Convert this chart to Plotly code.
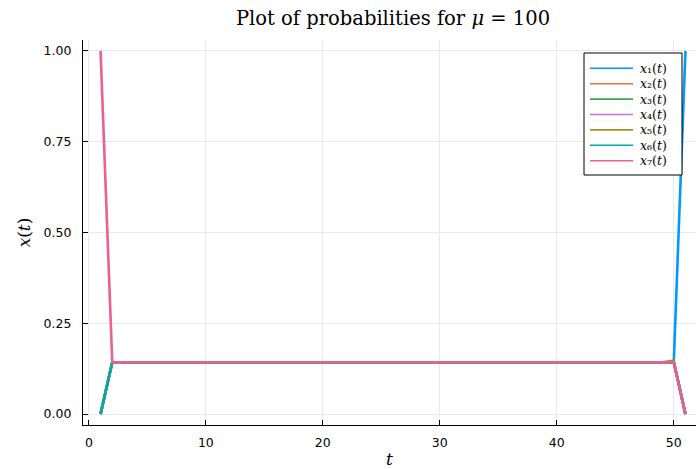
import plotly.graph_objects as go

# time steps
t = list(range(1, 52))

# probabilities of each state over time
p = 0.1429  # plateau level (about 1/7)
x1 = [0.0] + [p] * 49 + [1.0]
x2 = [0.0] + [p] * 49 + [0.0]
x3 = [0.0] + [p] * 49 + [0.0]
x4 = [0.0] + [p] * 49 + [0.0]
x5 = [0.0] + [p] * 48 + [0.147, 0.0]
x6 = [0.0] + [p] * 49 + [0.0]
x7 = [1.0] + [p] * 49 + [0.0]

series = [x1, x2, x3, x4, x5, x6, x7]
names = [f"<i>x</i>{s}(<i>t</i>)" for s in "₁₂₃₄₅₆₇"]
colors = ["#009AFA", "#E36F47", "#3EA44E", "#C371D2", "#AC8E18", "#00A9AD", "#ED5E93"]

y_ticks = [0.0, 0.25, 0.5, 0.75, 1.0]
y_labels = ["0.00", "0.25", "0.50", "0.75", "1.00"]
x_ticks = [0, 10, 20, 30, 40, 50]

W, H = 696, 469
ML, MR, MT, MB = 83, 0, 40, 44
PW, PH = W - ML - MR, H - MT - MB


def px_x(v):
    return (v - ML) / PW


def px_y(v):
    return (H - MB - v) / PH


fig = go.Figure()
for ys, nm, c in zip(series, names, colors):
    fig.add_trace(go.Scatter(x=t, y=ys, mode="lines", name=nm,
                             line=dict(color=c, width=2.6), showlegend=False))

serif = "DejaVu Serif"
sans = "DejaVu Sans"

# compact boxed legend in the upper right corner
box_l, box_r, box_t, box_b = 584, 682, 53, 175
row0, row_step = 68.3, 15.4
shapes = [dict(type="rect", xref="paper", yref="paper",
               x0=px_x(box_l), x1=px_x(box_r), y0=px_y(box_b), y1=px_y(box_t),
               line=dict(color="black", width=1), fillcolor="white", layer="above")]
annotations = []
for i, (nm, c) in enumerate(zip(names, colors)):
    yy = row0 + i * row_step
    shapes.append(dict(type="line", xref="paper", yref="paper",
                       x0=px_x(590), x1=px_x(633), y0=px_y(yy), y1=px_y(yy),
                       line=dict(color=c, width=1.6), layer="above"))
    annotations.append(dict(xref="paper", yref="paper", x=px_x(638), y=px_y(yy),
                            xanchor="left", yanchor="middle", showarrow=False,
                            text=nm, font=dict(family=serif, size=12.5, color="black")))

fig.update_layout(
    width=W, height=H,
    margin=dict(l=ML, r=MR, t=MT, b=MB),
    paper_bgcolor="white", plot_bgcolor="white",
    title=dict(text="Plot of probabilities for <i>μ</i> = 100",
               x=393 / W, xref="container", xanchor="center",
               y=1 - 18 / H, yref="container", yanchor="middle",
               font=dict(family=serif, size=19.5, color="black")),
    showlegend=False,
    shapes=shapes,
    annotations=annotations,
)

fig.update_xaxes(
    range=[-0.5, 51.9], tickvals=x_ticks,
    showgrid=True, gridcolor="#e9e9e9", gridwidth=1,
    showline=True, linecolor="black", linewidth=1.2, mirror=False,
    ticks="inside", ticklen=5, tickcolor="black", tickwidth=1,
    tickfont=dict(family=sans, size=12.5, color="black"),
    ticklabelstandoff=6,
    zeroline=False,
    title=dict(text="<i>t</i>", font=dict(family=serif, size=17, color="black"),
               standoff=4),
)
fig.update_yaxes(
    range=[-0.03, 1.03], tickvals=y_ticks, ticktext=y_labels,
    showgrid=True, gridcolor="#e9e9e9", gridwidth=1,
    showline=True, linecolor="black", linewidth=1.2, mirror=False,
    ticks="inside", ticklen=5, tickcolor="black", tickwidth=1,
    tickfont=dict(family=sans, size=12.5, color="black"),
    ticklabelstandoff=8,
    zeroline=False,
    title=dict(text="<i>x</i>(<i>t</i>)", font=dict(family=serif, size=17, color="black"),
               standoff=8),
)

fig.write_html("out.html")
